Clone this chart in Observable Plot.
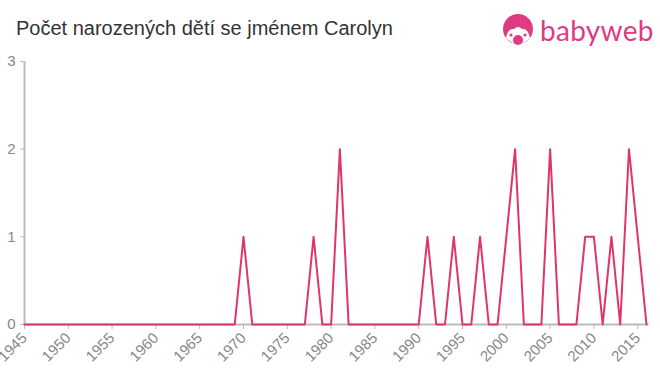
<!DOCTYPE html>
<html>
<head>
<meta charset="utf-8">
<script src="https://cdn.jsdelivr.net/npm/d3@7"></script>
<script src="https://cdn.jsdelivr.net/npm/@observablehq/plot@0.6"></script>
<style>
  html, body { margin: 0; padding: 0; background: #fff; }
  #wrap { position: relative; width: 660px; height: 375px; overflow: hidden; font-family: "Liberation Sans", Arial, sans-serif; }
  #title { position: absolute; left: 16px; top: 17px; font-size: 20px; color: #333; }
  #logo { position: absolute; left: 502px; top: 13px; display: flex; align-items: center; }
  #logo span { font-family: "Lato", "Liberation Sans", sans-serif; font-size: 28px; color: #e03a82; margin-left: 6px; letter-spacing: 0.3px; }
  #chart { position: absolute; left: 0; top: 0; }
  #chart svg, #chart svg g, #chart svg text { font-size: 15px !important; font-family: "Liberation Sans", Arial, sans-serif !important; }
</style>
</head>
<body>
<div id="wrap">
  <div id="chart"></div>
  <div id="title">Počet narozených dětí se jménem Carolyn</div>
  <div id="logo">
    <svg width="32" height="34" viewBox="0 0 32 34">
      <circle cx="16" cy="16" r="15" fill="#e03a82"/>
      <path d="M4 25 Q6 15 12 16 Q16 12 20 16 Q26 15 28 25 Q22 31 16 31 Q10 31 4 25 Z" fill="#fff"/>
      <circle cx="9" cy="22" r="1.6" fill="#e03a82"/>
      <circle cx="23" cy="22" r="1.6" fill="#e03a82"/>
      <circle cx="16" cy="27" r="5" fill="#e03a82"/>
    </svg>
    <span>babyweb</span>
  </div>
</div>
<script>
const years = d3.range(1945, 2017);
const counts = [
  0,0,0,0,0, 0,0,0,0,0, 0,0,0,0,0, 0,0,0,0,0, 0,0,0,0,0, // 1945-1969
  1,0,0,0,0, 0,0,0,1,0, 0,2,0,0,0, 0,0,0,0,0, 0,1,0,0,1, // 1970-1994
  0,0,1,0,0, 1,2,0,0,0, 2,0,0,0,1, 1,0,1,0,2, 1,0        // 1995-2016
];
const xTicks = d3.range(1945, 2016, 5);
const yTicks = [0, 1, 2, 3];

const data = years.map((y, i) => ({year: y, count: counts[i]}));

const chart = Plot.plot({
  width: 660,
  height: 375,
  marginLeft: 24,
  marginRight: 14,
  marginTop: 61,
  marginBottom: 51,
  x: {domain: [1945, 2016]},
  y: {domain: [0, 3]},
  style: {fontFamily: "Liberation Sans, Arial, sans-serif", fontSize: "15px", color: "#888", background: "#fff"},
  marks: [
    Plot.axisY({ticks: yTicks, tickFormat: d => String(d), tickSize: 4, tickPadding: 5, stroke: "#bbb", fill: "#888", label: null}),
    Plot.axisX({ticks: xTicks, tickFormat: d => String(d), tickSize: 5, tickRotate: -45, tickPadding: 6, stroke: "#bbb", fill: "#888", label: null}),
    Plot.ruleX([1945], {stroke: "#bbb", strokeWidth: 2}),
    Plot.ruleY([0], {stroke: "#bbb", strokeWidth: 2, x1: 1945, x2: 2016.3}),
    Plot.lineY(data, {x: "year", y: "count", stroke: "#e0356b", strokeWidth: 2})
  ]
});
document.getElementById("chart").appendChild(chart);
</script>
</body>
</html>
